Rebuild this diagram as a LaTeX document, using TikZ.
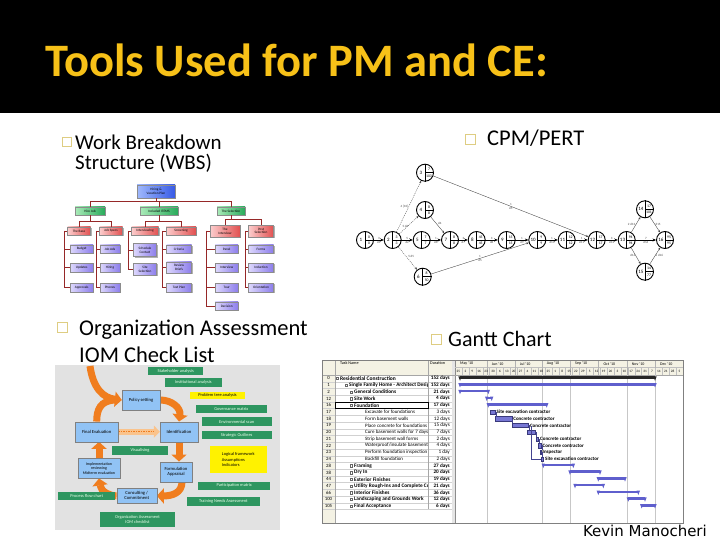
\documentclass[tikz,border=0pt]{standalone}
\usepackage{fontspec}
\setmainfont{Carlito}
\newfontfamily\djv{DejaVu Sans}
\usetikzlibrary{arrows.meta,shadows,calc}
\pgfdeclarelayer{bg}
\pgfdeclarelayer{mid}
\pgfsetlayers{bg,mid,main}
\definecolor{gold}{RGB}{247,193,24}
\definecolor{bultan}{RGB}{222,205,130}
\definecolor{wline}{RGB}{150,40,40}
\definecolor{wblueL}{RGB}{160,185,252}
\definecolor{wblueR}{RGB}{55,90,230}
\definecolor{wgreenL}{RGB}{170,235,185}
\definecolor{wgreenR}{RGB}{40,170,90}
\definecolor{wredL}{RGB}{252,205,205}
\definecolor{wredR}{RGB}{225,80,80}
\definecolor{wpurL}{RGB}{220,215,252}
\definecolor{wpurR}{RGB}{140,125,235}
\definecolor{iomgray}{RGB}{226,226,226}
\definecolor{iomblue}{RGB}{145,195,245}
\definecolor{iomgreen}{RGB}{46,150,96}
\definecolor{iomorange}{RGB}{240,125,30}
\definecolor{iomlight}{RGB}{250,195,140}
\definecolor{ganttbar}{RGB}{95,95,205}
\definecolor{ganttbeige}{RGB}{244,242,228}
\tikzset{
  bul/.style={draw=bultan, line width=0.9pt, minimum size=10pt, inner sep=0pt},
  btext/.style={anchor=base west, inner sep=0pt, font=\fontsize{21.5}{24}\selectfont},
  wb/.style={draw=black!45, line width=0.25pt, inner sep=0.4pt, align=center,
    font=\fontsize{3.4}{3.8}\selectfont,
    drop shadow={shadow xshift=1.2pt, shadow yshift=-1.2pt, fill=black!60}},
  wblue/.style={wb, left color=wblueL, right color=wblueR},
  wgreen/.style={wb, left color=wgreenL, right color=wgreenR, minimum height=8.5pt},
  wred/.style={wb, left color=wredL, right color=wredR, minimum height=8.5pt},
  wpur/.style={wb, left color=wpurL, right color=wpurR, minimum height=8.5pt},
  wcon/.style={draw=wline, line width=0.5pt},
  cpm/.style={circle, draw, line width=0.9pt, minimum size=17pt, inner sep=0pt, fill=white},
  cpmtxt/.style={inner sep=0pt, font=\fontsize{5}{5}\selectfont},
  cpmlab/.style={inner sep=0.5pt, font=\fontsize{3.2}{3.2}\selectfont, text=black!70},
  cpmthick/.style={line width=0.8pt, -{Stealth[length=3.5pt,width=3pt]}},
  cpmthin/.style={line width=0.35pt, draw=black!75, -{Stealth[length=2.5pt,width=2pt]}},
  cpmdot/.style={cpmthin, dash pattern=on 1pt off 1pt},
  iomb/.style={draw=black!50, line width=0.3pt, fill=iomblue, align=center, inner sep=0.5pt,
    font=\fontsize{4.6}{5.2}\selectfont},
  iomg/.style={fill=iomgreen, text=white!92!green, align=center, inner sep=0.5pt,
    font=\fontsize{4.4}{5}\selectfont},
  iomy/.style={fill=yellow, text=black, align=center, inner sep=0.5pt,
    font=\fontsize{4.4}{5.6}\selectfont},
  iomarrow/.style={draw=iomorange, line width=7pt, -{Triangle[length=7pt,width=15pt]}},
  iomband/.style={draw=iomorange, line width=7pt},
  iomlarrow/.style={draw=iomlight, line width=6pt, -{Triangle[length=6pt,width=12pt]}},
  gtxt/.style={inner sep=0pt, font=\fontsize{4.8}{5}\selectfont},
  glab/.style={inner sep=0pt, anchor=west, font=\fontsize{5}{5}\selectfont\bfseries},
}
\begin{document}
\begin{tikzpicture}[x=1pt,y=-1pt]
\useasboundingbox (0,0) rectangle (720,540);
\begin{pgfonlayer}{bg}
  \fill[white] (0,0) rectangle (720,540);
  \fill[iomgray] (55,365) rectangle (280,530);
\end{pgfonlayer}

% ---------------- title band
\fill[black] (0,0) rectangle (720,113);
\node[anchor=base west, inner sep=0pt, text=gold, font=\fontsize{46.5}{50}\selectfont\bfseries] (title) at (45,77) {Tools Used for PM and CE:};

% ---------------- bullets and texts
\node[bul, minimum size=9pt] (b1) at (66.5,142) {};
\node[btext, font=\fontsize{21}{24}\selectfont] (t1a) at (75,150) {Work Breakdown};
\node[btext, font=\fontsize{21}{24}\selectfont] (t1b) at (75,170) {Structure (WBS)};
\node[bul] (b2) at (62.5,327) {};
\node[btext, font=\fontsize{22.5}{24}\selectfont] (t2a) at (79,335) {Organization Assessment};
\node[btext, font=\fontsize{22.5}{24}\selectfont] (t2b) at (79,362) {IOM Check List};
\node[bul] (b3) at (470,139) {};
\node[btext, font=\fontsize{22.5}{24}\selectfont] (t3) at (487,146) {CPM/PERT};
\node[bul] (b4) at (436,339) {};
\node[btext, font=\fontsize{22}{24}\selectfont] (t4) at (448,346) {Gantt Chart};
\node[anchor=base east, inner sep=0pt, font=\djv\fontsize{15}{15}\selectfont] (author) at (707,536) {Kevin Manocheri};

% ---------------- WBS
\node[wblue, minimum width=38pt, minimum height=13pt] (w0) at (156,191.5) {Hiring \&\\Vacation Plan};
\node[wgreen, minimum width=30pt] (w1) at (90,211) {Hire Job};
\node[wgreen, minimum width=38pt] (w2) at (159,211) {Included ITEMS};
\node[wgreen, minimum width=28pt] (w3) at (231,211) {The Selection};
\node[wred, minimum width=23pt] (w11) at (79,231) {The Base};
\node[wred, minimum width=23pt] (w12) at (111,231) {Job Specs};
\node[wred, minimum width=27pt] (w21) at (145,231) {Interviewing};
\node[wred, minimum width=30pt] (w22) at (181,231) {Screening};
\node[wred, minimum width=30pt, minimum height=11.5pt] (w31) at (225,231) {The\\Interview};
\node[wred, minimum width=25pt, minimum height=11.5pt] (w32) at (261,231) {Post\\Selection};
\node[wpur, minimum width=23pt] (w111) at (81.7,249) {Budget};
\node[wpur, minimum width=23pt] (w112) at (81.7,267.5) {Updates};
\node[wpur, minimum width=23pt] (w113) at (81.7,287.5) {Approvals};
\node[wpur, minimum width=20pt] (w121) at (110,249) {Job Ads};
\node[wpur, minimum width=20pt] (w122) at (110,267.5) {Hiring};
\node[wpur, minimum width=20pt] (w123) at (110,287.5) {Phones};
\node[wpur, minimum width=23pt, minimum height=13pt] (w211) at (145,250) {Schedule\\Contact};
\node[wpur, minimum width=23pt, minimum height=12pt] (w212) at (145,269) {Site\\Selection};
\node[wpur, minimum width=25pt] (w221) at (179,249) {Criteria};
\node[wpur, minimum width=25pt, minimum height=11.5pt] (w222) at (179,267.5) {Review\\Briefs};
\node[wpur, minimum width=25pt] (w223) at (179,287.5) {Test Plan};
\node[wpur, minimum width=23pt] (w311) at (226.7,249) {Panel};
\node[wpur, minimum width=23pt] (w312) at (226.7,267.5) {Interview};
\node[wpur, minimum width=23pt] (w313) at (226.7,287.5) {Tour};
\node[wpur, minimum width=23pt] (w314) at (226.7,306) {Decision};
\node[wpur, minimum width=25pt] (w321) at (261,249) {Forms};
\node[wpur, minimum width=25pt] (w322) at (261,267.5) {Induction};
\node[wpur, minimum width=25pt] (w323) at (261,287.5) {Orientation};

\draw[wcon] (w0.south) -- ++(0,3.5) coordinate (wj0);
\draw[wcon] (wj0) -| (w1.north);
\draw[wcon] (wj0) -| (w2.north);
\draw[wcon] (wj0) -| (w3.north);
\draw[wcon] (w1.south) -- ++(0,5.5) coordinate (wj1);
\draw[wcon] (wj1) -| (w11.north);
\draw[wcon] (wj1) -| (w12.north);
\draw[wcon] (w2.south) -- ++(0,5.5) coordinate (wj2);
\draw[wcon] (wj2) -| (w21.north);
\draw[wcon] (wj2) -| (w22.north);
\draw[wcon] (w3.south) -- ++(0,4) coordinate (wj3);
\draw[wcon] (wj3) -| (w31.north);
\draw[wcon] (wj3) -| (w32.north);
\draw[wcon] (w11.west) -- ++(-3.5,0) coordinate (ws11) |- (w113.west);
\draw[wcon] (ws11) |- (w111.west);
\draw[wcon] (ws11) |- (w112.west);
\draw[wcon] (w12.west) -- ++(-3.5,0) coordinate (ws12) |- (w123.west);
\draw[wcon] (ws12) |- (w121.west);
\draw[wcon] (ws12) |- (w122.west);
\draw[wcon] (w21.west) -- ++(-3.5,0) coordinate (ws21) |- (w212.west);
\draw[wcon] (ws21) |- (w211.west);
\draw[wcon] (w22.west) -- ++(-3.5,0) coordinate (ws22) |- (w223.west);
\draw[wcon] (ws22) |- (w221.west);
\draw[wcon] (ws22) |- (w222.west);
\draw[wcon] (w31.west) -- ++(-3.5,0) coordinate (ws31) |- (w314.west);
\draw[wcon] (ws31) |- (w311.west);
\draw[wcon] (ws31) |- (w312.west);
\draw[wcon] (ws31) |- (w313.west);
\draw[wcon] (w32.west) -- ++(-3.5,0) coordinate (ws32) |- (w323.west);
\draw[wcon] (ws32) |- (w321.west);
\draw[wcon] (ws32) |- (w322.west);

% ---------------- CPM / PERT
\foreach \nm/\x/\y/\k/\ea/\eb in {
  n1/365/240/1/0/0, n2/392.7/240/2/3/3, n3/425/172.7/3/7/103,
  n4/425/210/4/8/8, n5/421.7/240/5/7/7, n6/422.7/276.7/6/8/50,
  n7/450/240/7/8/8, n8/476.7/240/8/45/45, n9/506.7/240/9/15/15,
  n10/537.3/240/10/9/9, n11/566.7/240/11/12/12, n12/596.7/240/12/17/17,
  n13/626.7/240/13/94/94, n14/645/209.3/14/17/101, n15/645/271.7/15/14/77,
  n16/665/240/16/95/95}{
  \node[cpm] (\nm) at (\x,\y) {};
  \draw[line width=0.6pt] (\nm.north) -- (\nm.south) (\nm.center) -- (\nm.east);
  \node[cpmtxt] (\nm k) at ($(\nm.center)+(-4.2,0)$) {\k};
  \node[cpmtxt, font=\fontsize{3.8}{4}\selectfont] (\nm a) at ($(\nm.center)+(4,-3.2)$) {\ea};
  \node[cpmtxt, font=\fontsize{3.8}{4}\selectfont] (\nm b) at ($(\nm.center)+(4,3.2)$) {\eb};
}
\foreach \a/\b/\u/\d in {n1/n2/3/d1, n2/n5/5/d2, n5/n7/1/d6, n7/n8/3/d7, n8/n9/3/d8,
  n9/n10/1/d9, n10/n11/1/d10, n11/n12/1/d11, n12/n13/3/d12, n13/n16/7/d16}{
  \draw[cpmthick] (\a) -- (\b) node[midway, above, cpmlab] {\u} node[midway, below, cpmlab] {\d};
}
\draw[cpmdot] (n2) -- (n3) node[midway, left, cpmlab] {4 [10]};
\draw[cpmdot] (n2) -- (n4) node[midway, below left, cpmlab] {5 d3};
\draw[cpmdot] (n2) -- (n6) node[midway, above right, cpmlab] {5 d5};
\draw[cpmthin] (n4) -- (n7) node[midway, above right, cpmlab] {d4};
\draw[cpmthin] (n3) -- (n12) node[midway, above, cpmlab] {1} node[midway, below, cpmlab] {d5};
\draw[cpmthin] (n6) -- (n10) node[midway, above, cpmlab] {1} node[midway, below, cpmlab] {d5};
\draw[cpmthin] (n13) -- (n14) node[midway, left, cpmlab] {2 d13};
\draw[cpmthin] (n13) -- (n15) node[midway, left, cpmlab] {d14};
\draw[cpmthin] (n14) -- (n16) node[midway, right, cpmlab] {d15};
\draw[cpmthin] (n15) -- (n16) node[midway, right, cpmlab] {1 d16};

% ---------------- IOM
\node[iomb, minimum width=38pt, minimum height=20pt] (pol) at (141,400) {Policy setting};
\node[iomb, minimum width=38pt, minimum height=20pt] (iden) at (179,431.7) {Identification};
\node[iomb, minimum width=43pt, minimum height=20pt] (fin) at (96.7,431.7) {Final Evaluation};
\node[iomb, minimum width=32pt, minimum height=20pt] (form) at (176,471.7) {Formulation\\Appraisal};
\node[iomb, minimum width=42pt, minimum height=20pt, font=\fontsize{4}{4.6}\selectfont] (impl) at (99,468.3) {Implementation\\reviewing\\Midterm evaluation};
\node[iomb, minimum width=40pt, minimum height=15pt] (cons) at (136.7,495.8) {Consulting /\\Commitment};
\node[iomg, minimum width=55pt, minimum height=7.7pt] (g1) at (175.8,371.2) {Stakeholder analysis};
\node[iomg, minimum width=56.7pt, minimum height=8.4pt] (g2) at (193.3,382.5) {Institutional analysis};
\node[iomy, minimum width=55pt, minimum height=7.6pt] (y1) at (217.5,395.5) {Problem tree analysis};
\node[iomg, minimum width=70.7pt, minimum height=8.3pt] (g3) at (231.3,409.2) {Governance matrix};
\node[iomg, minimum width=70pt, minimum height=8.7pt] (g4) at (236.7,421.7) {Environmental scan};
\node[iomg, minimum width=70pt, minimum height=8.6pt] (g5) at (236.7,435) {Strategic Outlines};
\node[iomg, minimum width=56.6pt, minimum height=9pt] (g6) at (140,450.5) {Visualising};
\node[iomy, minimum width=56.7pt, minimum height=27.3pt, align=left] (y2) at (238.3,459.7) {Logical framework\\Assumptions\\Indicators};
\node[iomg, minimum width=71.7pt, minimum height=8.3pt] (g7) at (234.2,485.8) {Participation matrix};
\node[iomg, minimum width=56.7pt, minimum height=8.3pt] (g8) at (86.7,495.8) {Process flow chart};
\node[iomg, minimum width=73.3pt, minimum height=9.3pt] (g9) at (223.3,501.3) {Training Needs Assessment};
\node[iomg, minimum width=75pt, minimum height=15pt] (g10) at (137.5,519.2) {Organization Assessment\\IOM checklist};

\begin{pgfonlayer}{mid}
  \draw[iomarrow] (90,366) .. controls (93,388) and (103,398) .. (pol.west);
  \draw[iomband] (fin.north) .. controls (96.7,410) and (100,400.5) .. ($(pol.west)+(-6.5,0)$);
  \draw[iomarrow] (pol.east) .. controls (172,400) and (181,408) .. (iden.north);
  \draw[iomarrow] (iden.south) -- (iden.south |- form.north);
  \draw[iomarrow] ($(form.south)+(6,0)$) .. controls (182,493) and (172,496) .. (cons.east);
  \draw[iomarrow] (cons.west) .. controls (110,496) and (101,492) .. (impl.south);
  \draw[iomarrow] (impl.north) -- (impl.north |- fin.south);
  \draw[iomlarrow] (fin.east) -- (iden.west);
  \draw[iomorange, line width=0.6pt, dash pattern=on 1.5pt off 1pt] (fin.east) -- ($(iden.west)+(-6,0)$);
\end{pgfonlayer}

% ---------------- Gantt
\fill[white] (322,360) rectangle (683,523);
\fill[ganttbeige] (322,360) rectangle (335,523);
\fill[ganttbeige] (322,360) rectangle (683,375);
\foreach \i in {0,...,20}{
  \draw[black!18, line width=0.25pt] (322,{375+\i*6.72}) -- (452,{375+\i*6.72});
}
\draw[black!35, line width=0.3pt] (335,360) -- (335,523);
\draw[black!35, line width=0.3pt] (428.3,360) -- (428.3,509.4);
\draw[black!45, line width=0.4pt] (452,360) -- (452,523);
\draw[black!45, line width=0.4pt] (455,360) -- (455,523);
\fill[black!10] (452.2,360) rectangle (454.8,523);
\draw[black!35, line width=0.3pt] (322,375) -- (683,375);
\draw[black!25, line width=0.25pt] (455,367.5) -- (683,367.5);
\node[gtxt, anchor=west, font=\fontsize{4.2}{4.5}\selectfont] (gh1) at (340,363.5) {Task Name};
\node[gtxt, anchor=west, font=\fontsize{4.2}{4.5}\selectfont] (gh2) at (430,363.5) {Duration};
\foreach \a/\b/\m in {455/486.7/May '10, 486.7/515/Jun '10, 515/541.7/Jul '10, 541.7/570/Aug '10,
  570/598.3/Sep '10, 598.3/626.7/Oct '10, 626.7/655/Nov '10, 655/683/Dec '10}{
  \draw[black!30, line width=0.25pt] (\b,360) -- (\b,375);
  \node[gtxt, anchor=west, font=\fontsize{4}{4.5}\selectfont] at (\a+5,363.8) {\m};
}
\foreach \d [count=\j from 0] in {25,2,9,16,23,30,6,13,20,27,4,11,18,25,1,8,15,22,29,5,12,19,26,3,10,17,24,31,7,14,21,28,5}{
  \draw[black!25, line width=0.2pt] ({455+(\j+1)*6.91},367.5) -- ({455+(\j+1)*6.91},375);
  \node[gtxt, font=\fontsize{3.4}{3.4}\selectfont] at ({455+(\j+0.5)*6.91},371.3) {\d};
}
\foreach \x in {486.7,541.7,570,626.7,655}{
  \draw[black!22, line width=0.3pt] (\x,375) -- (\x,523);
}
\begin{scope}
\clip (322,375) rectangle (427.8,510);
\foreach \id/\nm/\tx/\fw/\fs [count=\i from 0] in {
  0/Residential Construction/340/\bfseries/5.5,
  1/Single Family Home - Architect Design/349/\bfseries/5.3,
  2/General Conditions/354/\bfseries/5.3,
  12/Site Work/354/\bfseries/5.3,
  16/Foundation/354/\bfseries/5.3,
  17/Excavate for foundations/365/\mdseries/5,
  18/Form basement walls/365/\mdseries/5,
  19/Place concrete for foundations \& b/365/\mdseries/5,
  20/Cure basement walls for 7 days/365/\mdseries/5,
  21/Strip basement wall forms/365/\mdseries/5,
  22/{Waterproof/insulate basement wa}/365/\mdseries/5,
  23/Perform foundation inspection/365/\mdseries/5,
  24/Backfill foundation/365/\mdseries/5,
  28/Framing/354/\bfseries/5.3,
  38/Dry In/354/\bfseries/5.3,
  44/Exterior Finishes/354/\bfseries/5.3,
  47/Utility Rough-Ins and Complete Co/354/\bfseries/5.3,
  66/Interior Finishes/354/\bfseries/5.3,
  100/Landscaping and Grounds Work/354/\bfseries/5.3,
  105/Final Acceptance/354/\bfseries/5.3}{
  \pgfmathsetmacro\yc{378.36+\i*6.72}
  \node[gtxt, anchor=west, font=\fontsize{\fs}{6}\selectfont\fw] at (\tx,\yc) {\nm};
  \ifdim\tx pt<360pt
    \draw[black!60, line width=0.2pt] (\tx-4.4,\yc-1.2) rectangle (\tx-2,\yc+1.2);
  \fi
}
\end{scope}
\foreach \id/\du/\fw [count=\i from 0] in {0/152 days/\bfseries, 1/152 days/\bfseries,
  2/21 days/\bfseries, 12/4 days/\bfseries, 16/17 days/\bfseries, 17/3 days/\mdseries,
  18/12 days/\mdseries, 19/15 days/\mdseries, 20/7 days/\mdseries, 21/2 days/\mdseries,
  22/4 days/\mdseries, 23/1 day/\mdseries, 24/2 days/\mdseries, 28/27 days/\bfseries,
  38/20 days/\bfseries, 44/19 days/\bfseries, 47/21 days/\bfseries, 66/36 days/\bfseries,
  100/12 days/\bfseries, 105/6 days/\bfseries}{
  \pgfmathsetmacro\yc{378.36+\i*6.72}
  \node[gtxt] at (328.5,\yc) {\id};
  \node[gtxt, anchor=east, font=\fontsize{5.2}{6}\selectfont\fw] at (450,\yc) {\du};
}
\draw[black, line width=0.5pt] (335,401.9) rectangle (428.3,408.6);
% summary bars
\foreach \r/\a/\b/\c in {0/460/655/black!85, 1/460/655/ganttbar, 2/460/488.3/ganttbar,
  3/486.7/491.7/ganttbar, 4/488.3/546.7/ganttbar, 13/543.3/573.3/ganttbar,
  14/570/600/ganttbar, 15/598.3/625/ganttbar, 16/575/603.3/ganttbar,
  17/598.3/638.3/ganttbar, 18/628.3/645/ganttbar, 19/641.7/655/ganttbar}{
  \pgfmathsetmacro\yc{378.36+\r*6.72}
  \fill[\c] (\a,\yc-2) rectangle (\b,\yc+0.6);
  \fill[\c] (\a-1.7,\yc-2) -- (\a+1.7,\yc-2) -- (\a,\yc+2.4) -- cycle;
  \fill[\c] (\b-1.7,\yc-2) -- (\b+1.7,\yc-2) -- (\b,\yc+2.4) -- cycle;
}
% task bars
\foreach \r/\a/\b/\l in {5/490/495/Site excavation contractor, 6/495/511.7/Concrete contractor,
  7/511.7/528.3/Concrete contractor, 8/527.3/535/{}, 9/536/538.5/Concrete contractor,
  10/538.5/541/Concrete contractor, 11/540/541/Inspector, 12/541/543.5/Site excavation contractor}{
  \pgfmathsetmacro\yc{378.36+\r*6.72}
  \filldraw[fill=ganttbar!85, draw=ganttbar!60!black, line width=0.25pt] (\a,\yc-2.1) rectangle (\b,\yc+2.1);
  \node[glab] at (\b+1.5,\yc) {\l};
}
\foreach \r/\b/\na in {5/495/495, 6/511.7/511.7, 7/528.3/527.3, 8/535/536, 9/538.5/538.5, 10/541/540, 11/541/541}{
  \pgfmathsetmacro\yc{378.36+\r*6.72}
  \pgfmathsetmacro\yn{378.36+(\r+1)*6.72}
  \draw[ganttbar!70!black, line width=0.35pt] (\b,\yc) -- (\b+0.8,\yc) -- (\b+0.8,\yn-2.1);
}
\draw[ganttbar!70!black, line width=0.4pt] (530.7,425.7) -- (530.7,459.3) -- (541,459.3);
\draw[black!50, line width=0.4pt] (322,360) rectangle (683,523);
\end{tikzpicture}
\end{document}
